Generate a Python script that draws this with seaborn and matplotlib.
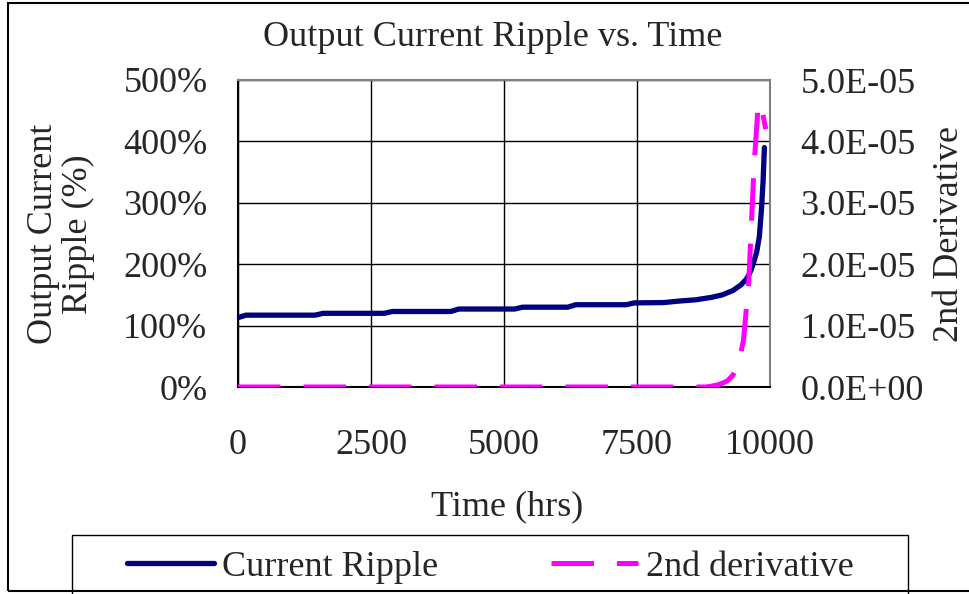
import matplotlib
matplotlib.use("Agg")
import matplotlib.pyplot as plt
import seaborn as sns
import pandas as pd
from matplotlib.patches import Rectangle
from matplotlib.lines import Line2D
from matplotlib.ticker import FuncFormatter

# ---- data ----
ripple_time = [0, 150, 1450, 1600, 2750, 2900, 4000, 4150, 5200, 5350, 6200, 6350,
               7300, 7450, 8000, 8300, 8600, 8900, 9100, 9300, 9450, 9550, 9600,
               9650, 9700, 9750, 9800, 9840, 9870, 9895]
ripple_pct = [113, 117, 117, 120, 120, 123, 123, 127, 127, 130, 130, 134,
              134, 137, 137.5, 140, 142, 146, 150, 157, 166, 175, 182,
              192, 205, 220, 245, 290, 335, 390]
deriv_time = [0, 8800, 9000, 9100, 9200, 9300, 9400, 9500, 9600, 9700, 9780, 9830, 9920]
deriv_val = [0, 0, 0.03e-5, 0.06e-5, 0.1e-5, 0.19e-5, 0.35e-5, 0.75e-5, 1.7e-5,
             3.6e-5, 4.62e-5, 4.6e-5, 4.2e-5]

x_ticks = [0, 2500, 5000, 7500, 10000]
y_ticks = [0, 100, 200, 300, 400, 500]
y2_ticks = [0, 1e-5, 2e-5, 3e-5, 4e-5, 5e-5]

title = "Output Current Ripple vs. Time"
xlabel = "Time (hrs)"
ylabel = "Output Current\nRipple (%)"
y2label = "2nd Derivative"
names = ["Current Ripple", "2nd derivative"]

NAVY = "#000080"
MAGENTA = "#FF00FF"

sns.set_style("white")
plt.rcParams["font.family"] = ["Liberation Serif", "DejaVu Serif"]
FS = 26

W, H = 969, 594
fig = plt.figure(figsize=(W / 100, H / 100), dpi=100)
ax = fig.add_axes([238 / W, 1 - 387 / H, (770 - 238) / W, (387 - 80) / H])
ax2 = ax.twinx()

df1 = pd.DataFrame({"t": ripple_time, "v": ripple_pct})
df2 = pd.DataFrame({"t": deriv_time, "v": deriv_val})

sns.lineplot(data=df1, x="t", y="v", ax=ax, color=NAVY, lw=3.8, zorder=5,
             solid_capstyle="round", solid_joinstyle="round")
sns.lineplot(data=df2, x="t", y="v", ax=ax2, color=MAGENTA, lw=3.6, zorder=6)
l2 = ax2.lines[0]
l2.set_dashes([8.5, 4.6])
l2.set_dash_capstyle("butt")

ax.set_xlim(0, 10000)
ax.set_ylim(0, 500)
ax2.set_ylim(0, 5e-5)
ax.set_xticks(x_ticks)
ax.set_yticks(y_ticks)
ax2.set_yticks(y2_ticks)
ax.yaxis.set_major_formatter(FuncFormatter(lambda v, p: f"{v:.0f}%"))
ax2.yaxis.set_major_formatter(FuncFormatter(lambda v, p: f"{v:.1E}"))
ax.set_xlabel("")
ax.set_ylabel("")
ax2.set_ylabel("")

ax.grid(True, color="black", lw=1.0)
ax.set_axisbelow(True)
ax.tick_params(axis="x", length=0, pad=30, labelsize=FS)
ax.tick_params(axis="y", length=0, pad=22, labelsize=FS)
ax2.tick_params(axis="y", length=0, pad=22, labelsize=FS)

for s in ["left", "bottom"]:
    ax.spines[s].set_color("black")
    ax.spines[s].set_linewidth(1.5)
for s in ["top", "right"]:
    ax.spines[s].set_color("#808080")
    ax.spines[s].set_linewidth(1.5)
for s in ax2.spines.values():
    s.set_visible(False)

fig.text(493 / W, 1 - 38 / H, title, ha="center", va="center", fontsize=FS)
fig.text(507 / W, 1 - 507 / H, xlabel, ha="center", va="center", fontsize=FS)
fig.text(61 / W, 1 - 234 / H, ylabel, ha="center", va="center", rotation=90,
         fontsize=FS, linespacing=1.05, multialignment="center")
fig.text(950 / W, 1 - 234 / H, y2label, ha="center", va="center", rotation=90,
         fontsize=FS)

# legend box
fig.patches.append(Rectangle((72 / W, -0.05), (908 - 72) / W, 0.05 + (594 - 535) / H,
                             transform=fig.transFigure, fill=False,
                             edgecolor="black", lw=1.0, zorder=10))
handles = [Line2D([], [], color=NAVY, lw=3.8, solid_capstyle="round"),
           Line2D([], [], color=MAGENTA, lw=3.6, dashes=[8.5, 4.6], dash_capstyle="butt")]
fig.legend(handles, names, loc="center left", bbox_to_anchor=(127 / W, 1 - 567 / H),
           ncol=2, frameon=False, fontsize=26, borderpad=0, borderaxespad=0,
           handlelength=2.4, handletextpad=0.22, columnspacing=3.15)

# outer figure border
fig.patches.append(Rectangle((8 / W, 1 - 591 / H), 1.2, (591 - 3) / H,
                             transform=fig.transFigure, fill=False,
                             edgecolor="black", lw=1.5, zorder=11))

fig.savefig("out.png", dpi=100)
